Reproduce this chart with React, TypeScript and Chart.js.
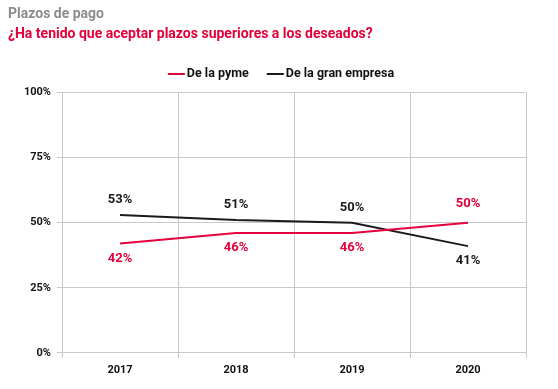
import React, { useEffect, useRef } from "react";
import { Chart, registerables } from "chart.js";

Chart.register(...registerables);

const categories = ["2017", "2018", "2019", "2020"];
const pymeValues = [42, 46, 46, 50];
const granEmpresaValues = [53, 51, 50, 41];
const yTicks = [0, 25, 50, 75, 100];
const seriesNames = ["De la pyme", "De la gran empresa"];

const RED = "#e3003b";
const BLACK = "#1a1a1a";
const FONT = "Roboto, 'Liberation Sans', sans-serif";

const labelPlugin = {
  id: "valueLabels",
  afterDatasetsDraw(chart: any) {
    const ctx = chart.ctx;
    ctx.save();
    ctx.font = `bold 13px ${FONT}`;
    ctx.textAlign = "center";
    ctx.textBaseline = "middle";
    chart.data.datasets.forEach((ds: any, di: number) => {
      const meta = chart.getDatasetMeta(di);
      const other = chart.data.datasets[1 - di].data;
      meta.data.forEach((pt: any, i: number) => {
        const v = ds.data[i];
        const above = v >= other[i];
        ctx.fillStyle = ds.borderColor;
        const y = above ? pt.y - (di === 0 ? 19 : 15) : pt.y + 15;
        ctx.fillText(`${v}%`, pt.x, y);
      });
    });
    ctx.restore();
  },
};

const legendPlugin = {
  id: "customLegend",
  afterDraw(chart: any) {
    const ctx = chart.ctx;
    ctx.save();
    ctx.font = `bold 12.5px ${FONT}`;
    ctx.textBaseline = "middle";
    const lineW = 17;
    const gap = 2;
    const itemGap = 18;
    const items = chart.data.datasets.map((ds: any) => ({
      text: ds.label,
      color: ds.borderColor,
      w: lineW + gap + ctx.measureText(ds.label).width,
    }));
    const total = items.reduce((s: number, it: any) => s + it.w, 0) + itemGap * (items.length - 1);
    let x = chart.width / 2 + 2 - total / 2;
    const y = 74;
    items.forEach((it: any) => {
      ctx.fillStyle = it.color;
      ctx.fillRect(x, y - 1, lineW, 2);
      ctx.fillStyle = "#111";
      ctx.textAlign = "left";
      ctx.fillText(it.text, x + lineW + gap, y);
      x += it.w + itemGap;
    });
    ctx.restore();
  },
};

export default function App() {
  const ref = useRef<HTMLCanvasElement>(null);
  useEffect(() => {
    if (!ref.current) return;
    const chart = new Chart(ref.current, {
      type: "line",
      data: {
        labels: categories,
        datasets: [
          {
            label: seriesNames[0],
            data: pymeValues,
            borderColor: RED,
            backgroundColor: RED,
            borderWidth: 2,
            pointRadius: 0,
            tension: 0,
          },
          {
            label: seriesNames[1],
            data: granEmpresaValues,
            borderColor: BLACK,
            backgroundColor: BLACK,
            borderWidth: 2,
            pointRadius: 0,
            tension: 0,
          },
        ],
      },
      options: {
        animation: false,
        responsive: false,
        maintainAspectRatio: false,
        layout: { padding: { left: 8, right: 32, top: 4, bottom: 6 } },
        plugins: {
          title: {
            display: true,
            text: "Plazos de pago",
            align: "start",
            color: "#8c8c8c",
            font: { family: FONT, size: 14, weight: "bold" },
            padding: { top: 2, bottom: 2 },
          },
          subtitle: {
            display: true,
            text: "¿Ha tenido que aceptar plazos superiores a los deseados?",
            align: "start",
            color: RED,
            font: { family: FONT, size: 14, weight: "bold" },
            padding: { top: 1, bottom: 50 },
          },
          legend: { display: false },
          tooltip: { enabled: false },
        },
        scales: {
          x: {
            offset: true,
            grid: { offset: true, color: "#c8c8c8", lineWidth: 1, tickLength: 5 },
            border: { color: "#c8c8c8" },
            ticks: {
              color: "#111",
              font: { family: FONT, size: 11, weight: "bold" },
              padding: 6,
            },
          },
          y: {
            min: 0,
            max: 100,
            afterBuildTicks(scale: any) {
              scale.ticks = yTicks.map((v) => ({ value: v }));
            },
            afterFit(scale: any) {
              scale.width = 54;
            },
            grid: { color: "#c8c8c8", lineWidth: 1, tickLength: 5 },
            border: { color: "#c8c8c8" },
            ticks: {
              color: "#111",
              font: { family: FONT, size: 11, weight: "bold" },
              padding: 6,
              callback: (v: any) => `${v}%`,
            },
          },
        },
      },
      plugins: [labelPlugin, legendPlugin],
    });
    return () => chart.destroy();
  }, []);
  return (
    <div style={{ position: "absolute", left: 0, top: 0, width: 558, height: 389, background: "#fff" }}>
      <canvas ref={ref} width={558} height={389} />
    </div>
  );
}
